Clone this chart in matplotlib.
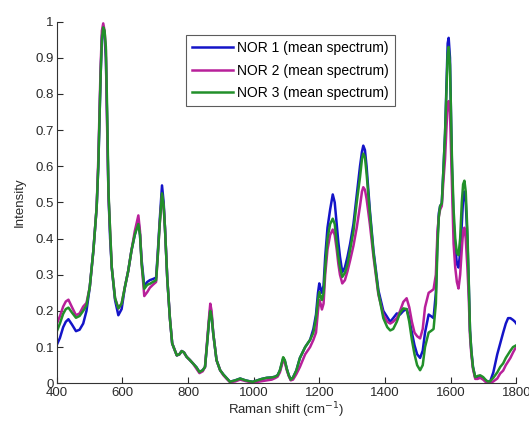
import matplotlib
matplotlib.use("Agg")
import matplotlib.pyplot as plt

plt.rcParams['font.family'] = ['Liberation Sans', 'DejaVu Sans']

# Raman shift (cm-1) sample positions shared by the three spectra
shift = [400, 410, 420, 428, 436, 447, 459, 470, 481, 491, 501, 512, 522, 527, 534, 538, 542,
         546, 550, 554, 558, 563, 568, 578, 588, 598, 608, 618, 628, 638, 649, 654, 659, 667,
         676, 684, 693, 703, 708, 714, 721, 726, 730, 737, 745, 752, 766, 774, 781, 788, 796,
         806, 816, 826, 835, 845, 852, 859, 864, 868, 872, 877, 887, 898, 908, 918, 928, 944,
         959, 975, 990, 998, 1012, 1025, 1040, 1055, 1065, 1073, 1080, 1086, 1090, 1095, 1101,
         1107, 1113, 1120, 1130, 1141, 1157, 1172, 1182, 1190, 1196, 1200, 1204, 1208, 1213,
         1218, 1225, 1233, 1241, 1247, 1253, 1258, 1263, 1270, 1278, 1286, 1294, 1304, 1314,
         1324, 1330, 1334, 1339, 1344, 1354, 1365, 1380, 1395, 1407, 1416, 1425, 1436, 1446,
         1456, 1466, 1474, 1482, 1490, 1498, 1507, 1515, 1522, 1533, 1541, 1548, 1555, 1560,
         1564, 1568, 1573, 1578, 1583, 1587, 1591, 1594, 1598, 1604, 1609, 1614, 1619, 1624,
         1629, 1634, 1638, 1642, 1646, 1651, 1655, 1659, 1663, 1668, 1675, 1682, 1690, 1699,
         1706, 1712, 1720, 1730, 1742, 1751, 1760, 1768, 1775, 1782, 1790, 1796, 1800]

nor1 = [0.105, 0.125, 0.155, 0.170, 0.177, 0.162, 0.144, 0.148, 0.165, 0.200, 0.266, 0.367,
        0.487, 0.60, 0.85, 0.96, 0.985, 0.96, 0.90, 0.72, 0.52, 0.40, 0.32, 0.23, 0.188,
        0.205, 0.266, 0.310, 0.367, 0.41, 0.450, 0.41, 0.34, 0.268, 0.280, 0.285, 0.288,
        0.292, 0.36, 0.45, 0.547, 0.50, 0.43, 0.29, 0.18, 0.11, 0.077, 0.080, 0.089, 0.085,
        0.073, 0.064, 0.054, 0.044, 0.031, 0.036, 0.045, 0.119, 0.17, 0.205, 0.19, 0.138,
        0.064, 0.036, 0.024, 0.014, 0.004, 0.008, 0.013, 0.008, 0.005, 0.004, 0.008, 0.012,
        0.015, 0.016, 0.018, 0.022, 0.035, 0.055, 0.068, 0.062, 0.04, 0.022, 0.010, 0.016,
        0.035, 0.070, 0.100, 0.120, 0.150, 0.190, 0.250, 0.276, 0.262, 0.250, 0.27, 0.35,
        0.43, 0.48, 0.522, 0.50, 0.44, 0.39, 0.35, 0.307, 0.32, 0.35, 0.386, 0.44, 0.52, 0.60,
        0.64, 0.657, 0.645, 0.60, 0.478, 0.367, 0.257, 0.20, 0.183, 0.17, 0.180, 0.193, 0.190,
        0.200, 0.205, 0.18, 0.14, 0.105, 0.08, 0.07, 0.09, 0.14, 0.19, 0.185, 0.18, 0.25, 0.40,
        0.47, 0.49, 0.497, 0.59, 0.69, 0.82, 0.94, 0.955, 0.90, 0.60, 0.45, 0.38, 0.33, 0.32,
        0.36, 0.44, 0.51, 0.53, 0.50, 0.40, 0.28, 0.146, 0.09, 0.045, 0.015, 0.015, 0.02, 0.015,
        0.008, 0.005, 0.004, 0.03, 0.08, 0.11, 0.14, 0.165, 0.18, 0.18, 0.175, 0.17, 0.165]

nor2 = [0.163, 0.185, 0.212, 0.226, 0.231, 0.210, 0.188, 0.193, 0.212, 0.222, 0.266, 0.367,
        0.487, 0.62, 0.874, 0.975, 0.995, 0.975, 0.92, 0.70, 0.52, 0.42, 0.32, 0.235, 0.207,
        0.220, 0.266, 0.310, 0.367, 0.42, 0.464, 0.42, 0.33, 0.241, 0.252, 0.264, 0.272,
        0.280, 0.35, 0.44, 0.52, 0.49, 0.43, 0.29, 0.18, 0.11, 0.077, 0.080, 0.089, 0.085,
        0.073, 0.064, 0.054, 0.040, 0.028, 0.033, 0.045, 0.125, 0.18, 0.22, 0.20, 0.138,
        0.064, 0.036, 0.022, 0.012, 0.003, 0.005, 0.010, 0.006, 0.003, 0.002, 0.004, 0.006,
        0.008, 0.010, 0.014, 0.018, 0.030, 0.050, 0.064, 0.058, 0.036, 0.020, 0.008, 0.010,
        0.025, 0.045, 0.080, 0.100, 0.120, 0.140, 0.200, 0.230, 0.220, 0.204, 0.22, 0.30,
        0.37, 0.41, 0.425, 0.41, 0.37, 0.33, 0.30, 0.276, 0.285, 0.31, 0.34, 0.38, 0.43, 0.49,
        0.53, 0.542, 0.535, 0.51, 0.44, 0.35, 0.245, 0.19, 0.170, 0.165, 0.170, 0.180, 0.200,
        0.225, 0.235, 0.21, 0.17, 0.14, 0.13, 0.124, 0.15, 0.21, 0.25, 0.255, 0.26, 0.30, 0.42,
        0.46, 0.48, 0.49, 0.56, 0.62, 0.70, 0.77, 0.78, 0.75, 0.55, 0.386, 0.32, 0.28, 0.262,
        0.30, 0.37, 0.42, 0.43, 0.40, 0.32, 0.24, 0.13, 0.08, 0.04, 0.012, 0.012, 0.015, 0.01,
        0.004, 0.0, 0.0, 0.005, 0.013, 0.027, 0.035, 0.05, 0.06, 0.07, 0.085, 0.095, 0.10]

nor3 = [0.142, 0.165, 0.192, 0.205, 0.209, 0.195, 0.181, 0.186, 0.200, 0.215, 0.266, 0.367,
        0.487, 0.60, 0.85, 0.95, 0.984, 0.975, 0.93, 0.75, 0.53, 0.42, 0.32, 0.235, 0.207,
        0.220, 0.266, 0.310, 0.367, 0.41, 0.440, 0.41, 0.33, 0.261, 0.272, 0.275, 0.280,
        0.285, 0.35, 0.44, 0.525, 0.49, 0.43, 0.29, 0.18, 0.11, 0.077, 0.080, 0.089, 0.085,
        0.073, 0.064, 0.054, 0.044, 0.031, 0.036, 0.045, 0.115, 0.17, 0.20, 0.185, 0.138,
        0.064, 0.036, 0.024, 0.014, 0.004, 0.008, 0.013, 0.008, 0.005, 0.004, 0.008, 0.012,
        0.015, 0.016, 0.018, 0.022, 0.036, 0.058, 0.072, 0.064, 0.040, 0.022, 0.010, 0.016,
        0.035, 0.070, 0.100, 0.120, 0.140, 0.180, 0.230, 0.252, 0.240, 0.230, 0.25, 0.32,
        0.40, 0.44, 0.455, 0.44, 0.39, 0.35, 0.32, 0.294, 0.305, 0.33, 0.37, 0.42, 0.50, 0.57,
        0.62, 0.635, 0.625, 0.58, 0.47, 0.36, 0.25, 0.18, 0.155, 0.146, 0.150, 0.170, 0.195,
        0.207, 0.205, 0.17, 0.12, 0.08, 0.05, 0.036, 0.05, 0.10, 0.14, 0.145, 0.15, 0.22, 0.38,
        0.46, 0.49, 0.497, 0.59, 0.69, 0.80, 0.91, 0.93, 0.88, 0.62, 0.48, 0.40, 0.36, 0.354,
        0.40, 0.50, 0.55, 0.56, 0.53, 0.42, 0.29, 0.146, 0.09, 0.045, 0.017, 0.02, 0.022, 0.017,
        0.01, 0.005, 0.005, 0.015, 0.03, 0.045, 0.055, 0.07, 0.08, 0.09, 0.1, 0.103, 0.105]

labels = ['NOR 1 (mean spectrum)', 'NOR 2 (mean spectrum)', 'NOR 3 (mean spectrum)']
colors = ['#1414c8', '#b8209a', '#22902a']

fig = plt.figure(figsize=(5.29, 4.23), dpi=100)
ax = fig.add_axes([0.107, 0.094, 0.869, 0.855])

for series, lab, col in zip([nor1, nor2, nor3], labels, colors):
    ax.plot(shift, series, color=col, lw=1.8, label=lab)

ax.set_xlim(400, 1800)
ax.set_ylim(0, 1)
ax.set_xticks(range(400, 1801, 200))
ax.set_yticks([i / 10 for i in range(11)])
ax.set_yticklabels(['0', '0.1', '0.2', '0.3', '0.4', '0.5', '0.6', '0.7', '0.8', '0.9', '1'])
ax.tick_params(direction='in', length=4, width=0.8, labelsize=9.5, colors='#2a2a2a', pad=2)
ax.tick_params(axis='x', pad=3)
ax.spines['top'].set_visible(False)
ax.spines['right'].set_visible(False)
for s in ['left', 'bottom']:
    ax.spines[s].set_color('#333333')
    ax.spines[s].set_linewidth(0.8)

ax.set_xlabel('Raman shift (cm$^{-1}$)', fontsize=9.5, color='#2a2a2a', labelpad=1)
ax.set_ylabel('Intensity', fontsize=9.5, color='#2a2a2a', labelpad=7)

leg = ax.legend(loc='upper left', bbox_to_anchor=(0.2815, 0.963), fontsize=10,
                frameon=True, fancybox=False, edgecolor='#333333', handlelength=2.9,
                handletextpad=0.35, borderpad=0.45, labelspacing=0.6, borderaxespad=0)
leg.get_frame().set_linewidth(0.8)

fig.savefig('out.png', dpi=100)
